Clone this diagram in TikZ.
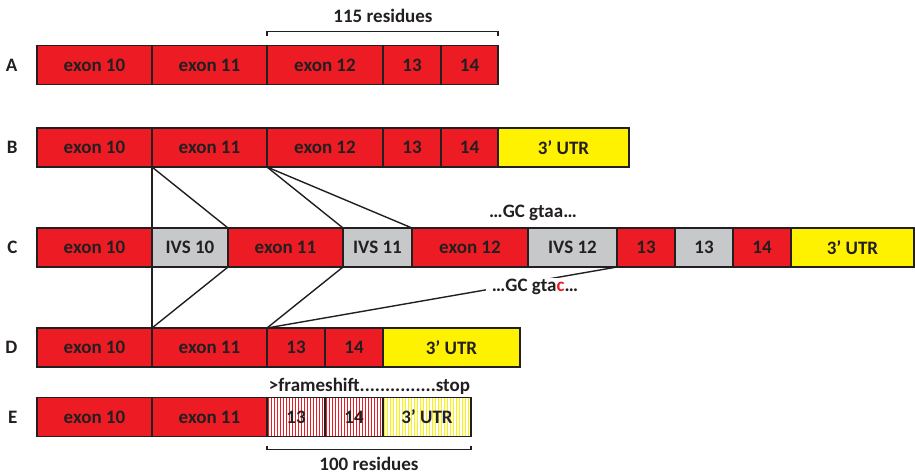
\documentclass[tikz,border=0pt]{standalone}
\usepackage{fontspec}
\setmainfont{Carlito}
\usetikzlibrary{positioning}
\definecolor{exonred}{HTML}{ED1C24}
\definecolor{utryellow}{HTML}{FFF200}
\definecolor{ivsgrey}{HTML}{C7C8CA}
\definecolor{ink}{HTML}{231F20}
\tikzset{
    seg/.style={draw=ink,line width=1.5pt,minimum height=39pt,inner sep=0pt,outer sep=0pt,
        font=\bfseries\fontsize{19}{21}\selectfont,text=ink},
    exon/.style={seg,fill=exonred},
    ivs/.style={seg,fill=ivsgrey},
    utr/.style={seg,fill=utryellow},
    shifted/.style={seg,fill=white,path picture={
        \foreach \k in {1,4,...,150}
            \draw[#1,line width=1pt]([xshift=\k pt]path picture bounding box.south west)
                --([xshift=\k pt]path picture bounding box.north west);}},
    rowlabel/.style={font=\bfseries\fontsize{19}{21}\selectfont,text=ink},
    note/.style={font=\bfseries\fontsize{19}{21}\selectfont,text=ink},
    link/.style={draw=ink,line width=1.4pt},
    span/.style={draw=ink,line width=1.4pt}
}

\begin{document}
\begin{tikzpicture}[x=1pt,y=-1pt]
\useasboundingbox (0,0) rectangle (915,475);
% row A
\node[exon,minimum width=115pt,anchor=west] (a10) at (37,65) {exon 10};
\node[exon,minimum width=115pt,right=0pt of a10] (a11) {exon 11};
\node[exon,minimum width=116pt,right=0pt of a11] (a12) {exon 12};
\node[exon,minimum width=58pt,right=0pt of a12] (a13) {13};
\node[exon,minimum width=57pt,right=0pt of a13] (a14) {14};
\node[rowlabel,left=16pt of a10] (la) {A};
\draw[span]([yshift=10pt]a12.north west)--([yshift=14pt]a12.north west)
    --([yshift=14pt]a14.north east)--([yshift=10pt]a14.north east);
\node[note] (res115) at (383,16) {115 residues};
% row B
\node[exon,minimum width=115pt,anchor=west] (b10) at (37,147.5) {exon 10};
\node[exon,minimum width=115pt,right=0pt of b10] (b11) {exon 11};
\node[exon,minimum width=116pt,right=0pt of b11] (b12) {exon 12};
\node[exon,minimum width=58pt,right=0pt of b12] (b13) {13};
\node[exon,minimum width=57pt,right=0pt of b13] (b14) {14};
\node[utr,minimum width=131pt,right=0pt of b14] (butr) {3’ UTR};
\node[rowlabel,left=16pt of b10] (lb) {B};
% row C
\node[exon,minimum width=115pt,anchor=west] (c10) at (37,247.5) {exon 10};
\node[ivs,minimum width=76pt,right=0pt of c10] (civs10) {IVS 10};
\node[exon,minimum width=115pt,right=0pt of civs10] (c11) {exon 11};
\node[ivs,minimum width=69pt,right=0pt of c11] (civs11) {IVS 11};
\node[exon,minimum width=116pt,right=0pt of civs11] (c12) {exon 12};
\node[ivs,minimum width=89pt,right=0pt of c12] (civs12) {IVS 12};
\node[exon,minimum width=58pt,right=0pt of civs12] (c13) {13};
\node[ivs,minimum width=58pt,right=0pt of c13] (civs13) {13};
\node[exon,minimum width=58pt,right=0pt of civs13] (c14) {14};
\node[utr,minimum width=123pt,right=0pt of c14] (cutr) {3’ UTR};
\node[rowlabel,left=16pt of c10] (lc) {C};
\node[note] (wt) at (533,213) {…GC gtaa…};
% row D
\node[exon,minimum width=115pt,anchor=west] (d10) at (37,347.5) {exon 10};
\node[exon,minimum width=115pt,right=0pt of d10] (d11) {exon 11};
\node[exon,minimum width=58pt,right=0pt of d11] (d13) {13};
\node[exon,minimum width=58pt,right=0pt of d13] (d14) {14};
\node[utr,minimum width=137pt,right=0pt of d14] (dutr) {3’ UTR};
\node[rowlabel,left=16pt of d10] (ld) {D};
% row E
\node[exon,minimum width=115pt,anchor=west] (e10) at (37,417) {exon 10};
\node[exon,minimum width=115pt,right=0pt of e10] (e11) {exon 11};
\node[shifted=exonred,minimum width=58pt,right=0pt of e11] (e13) {13};
\node[shifted=exonred,minimum width=58pt,right=0pt of e13] (e14) {14};
\node[shifted=utryellow,minimum width=88pt,right=0pt of e14] (eutr) {3’ UTR};
\node[rowlabel,left=16pt of e10] (le) {E};
\node[note] (shift) at (369.5,386) {>frameshift...............stop};
\draw[span]([yshift=-9pt]e13.south west)--([yshift=-13pt]e13.south west)
    --([yshift=-13pt]eutr.south east)--([yshift=-9pt]eutr.south east);
\node[note] (res100) at (369,464) {100 residues};
% B to C
\draw[link](b10.south east)--(c10.north east);
\draw[link](b10.south east)--(civs10.north east);
\draw[link](b11.south east)--(c11.north east);
\draw[link](b11.south east)--(civs11.north east);
% C to D
\draw[link](c10.south east)--(d10.north east);
\draw[link](civs10.south east)--(d10.north east);
\draw[link](civs11.south west)--(d11.north east);
\draw[link](civs12.south east)--(d11.north east);
\node[note,fill=white,inner xsep=6pt,inner ysep=1pt] (mut) at (535,287) {…GC gta\textcolor{exonred}{c}…};
\end{tikzpicture}
\end{document}
